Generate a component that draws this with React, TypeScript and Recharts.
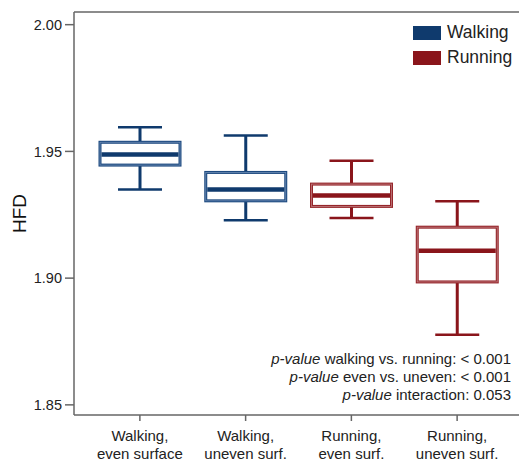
import React from "react";
import { Bar, ComposedChart, Customized, Legend, ReferenceLine, XAxis, YAxis } from "recharts";

const categories = ["Walking,\neven surface", "Walking,\nuneven surf.", "Running,\neven surf.", "Running,\nuneven surf."];
const groups = ["Walking", "Walking", "Running", "Running"];
const whiskerLow = [1.935, 1.9228, 1.9237, 1.8777];
const quartile1 = [1.9446, 1.9305, 1.9283, 1.8985];
const medians = [1.9488, 1.935, 1.9326, 1.9108];
const quartile3 = [1.9536, 1.9417, 1.9371, 1.9201];
const whiskerHigh = [1.9595, 1.9563, 1.9463, 1.9303];
const yTicks = [1.85, 1.9, 1.95, 2.0];
const pValueNotes = ["walking vs. running: < 0.001", "even vs. uneven: < 0.001", "interaction: 0.053"];

const Y_MIN = 1.846;
const Y_MAX = 2.005;
const FONT = "'Liberation Sans', Arial, sans-serif";
const AXIS = "#666";

const colors: Record<string, { dark: string; edge: string; light: string }> = {
  Walking: { dark: "#0f3a6d", edge: "#1d4a80", light: "#6f8db4" },
  Running: { dark: "#8a151b", edge: "#96262b", light: "#c07d80" },
};

const data = categories.map((name, i) => ({
  name,
  group: groups[i],
  range: [quartile1[i], quartile3[i]],
  low: whiskerLow[i],
  q1: quartile1[i],
  median: medians[i],
  q3: quartile3[i],
  high: whiskerHigh[i],
}));

// box + whiskers, scaled off the bar's own q1..q3 extent
function BoxShape(props: any) {
  const { x, y, width, height, payload } = props;
  const c = colors[payload.group];
  const k = height / (payload.q3 - payload.q1);
  const py = (v: number) => y + (payload.q3 - v) * k;
  const cx = x + width / 2;
  const cap = 22;
  return (
    <g>
      <line x1={cx} x2={cx} y1={py(payload.high)} y2={y} stroke={c.dark} strokeWidth={3} />
      <line x1={cx} x2={cx} y1={y + height} y2={py(payload.low)} stroke={c.dark} strokeWidth={3} />
      <line x1={cx - cap} x2={cx + cap} y1={py(payload.high)} y2={py(payload.high)} stroke={c.dark} strokeWidth={2.5} />
      <line x1={cx - cap} x2={cx + cap} y1={py(payload.low)} y2={py(payload.low)} stroke={c.dark} strokeWidth={2.5} />
      <rect x={x} y={y} width={width} height={height} fill="#fff" stroke={c.edge} strokeWidth={3} />
      <rect x={x} y={y} width={width} height={height} fill="none" stroke={c.light} strokeWidth={0.8} />
      <line x1={x + 1.5} x2={x + width - 1.5} y1={py(payload.median)} y2={py(payload.median)} stroke={c.dark} strokeWidth={4.5} />
    </g>
  );
}

function CategoryTick(props: any) {
  const { x, y, payload } = props;
  const lines = String(payload.value).split("\n");
  return (
    <text x={x} y={y} textAnchor="middle" fontFamily={FONT} fontSize={15} fill="#222">
      {lines.map((l, i) => (
        <tspan key={i} x={x} dy={i === 0 ? 18 : 18}>
          {l}
        </tspan>
      ))}
    </text>
  );
}

function LegendBox() {
  return (
    <div style={{ fontFamily: FONT, fontSize: 17.5, color: "#222" }}>
      {["Walking", "Running"].map((g) => (
        <div key={g} style={{ display: "flex", alignItems: "center", height: 25 }}>
          <span style={{ display: "inline-block", width: 28, height: 14, background: colors[g].dark, marginRight: 6 }} />
          {g}
        </div>
      ))}
    </div>
  );
}

function PValueNotes() {
  const right = 511;
  const top = 364;
  return (
    <g fontFamily={FONT} fontSize={15} fill="#222">
      {pValueNotes.map((note, i) => (
        <text key={i} x={right} y={top + i * 18} textAnchor="end">
          <tspan fontStyle="italic">p-value</tspan> {note}
        </text>
      ))}
    </g>
  );
}

export default function App() {
  return (
    <div style={{ position: "absolute", left: 0, top: 0, width: 519, height: 463, background: "#fff" }}>
      <ComposedChart width={519} height={463} data={data} margin={{ top: 12, right: 0, bottom: 0, left: 0 }}>
        <XAxis
          dataKey="name"
          height={48}
          padding={{ left: 13, right: 9 }}
          tick={<CategoryTick />}
          tickLine={{ stroke: AXIS, strokeWidth: 1.5 }}
          tickSize={6}
          axisLine={{ stroke: AXIS, strokeWidth: 1.5 }}
          interval={0}
        />
        <YAxis
          type="number"
          domain={[Y_MIN, Y_MAX]}
          ticks={yTicks}
          allowDataOverflow
          width={74}
          tickSize={9}
          tickFormatter={(v: number) => v.toFixed(2)}
          tick={{ fontFamily: FONT, fontSize: 14.5, fill: "#222", dx: -1 }}
          tickLine={{ stroke: AXIS, strokeWidth: 1.5 }}
          axisLine={{ stroke: AXIS, strokeWidth: 1.5 }}
          label={{ value: "HFD", angle: -90, position: "insideLeft", offset: 19, style: { fontFamily: FONT, fontSize: 19, fill: "#111", textAnchor: "middle" } }}
        />
        <ReferenceLine y={Y_MAX} stroke={AXIS} strokeWidth={1.5} ifOverflow="visible" />
        <Bar dataKey="range" barSize={80} shape={<BoxShape />} isAnimationActive={false} />
        <Legend
          layout="vertical"
          align="center"
          verticalAlign="middle"
          content={<LegendBox />}
          wrapperStyle={{ top: 20, left: 413, width: 106, height: "auto" }}
        />
        <Customized component={<PValueNotes />} />
      </ComposedChart>
    </div>
  );
}
